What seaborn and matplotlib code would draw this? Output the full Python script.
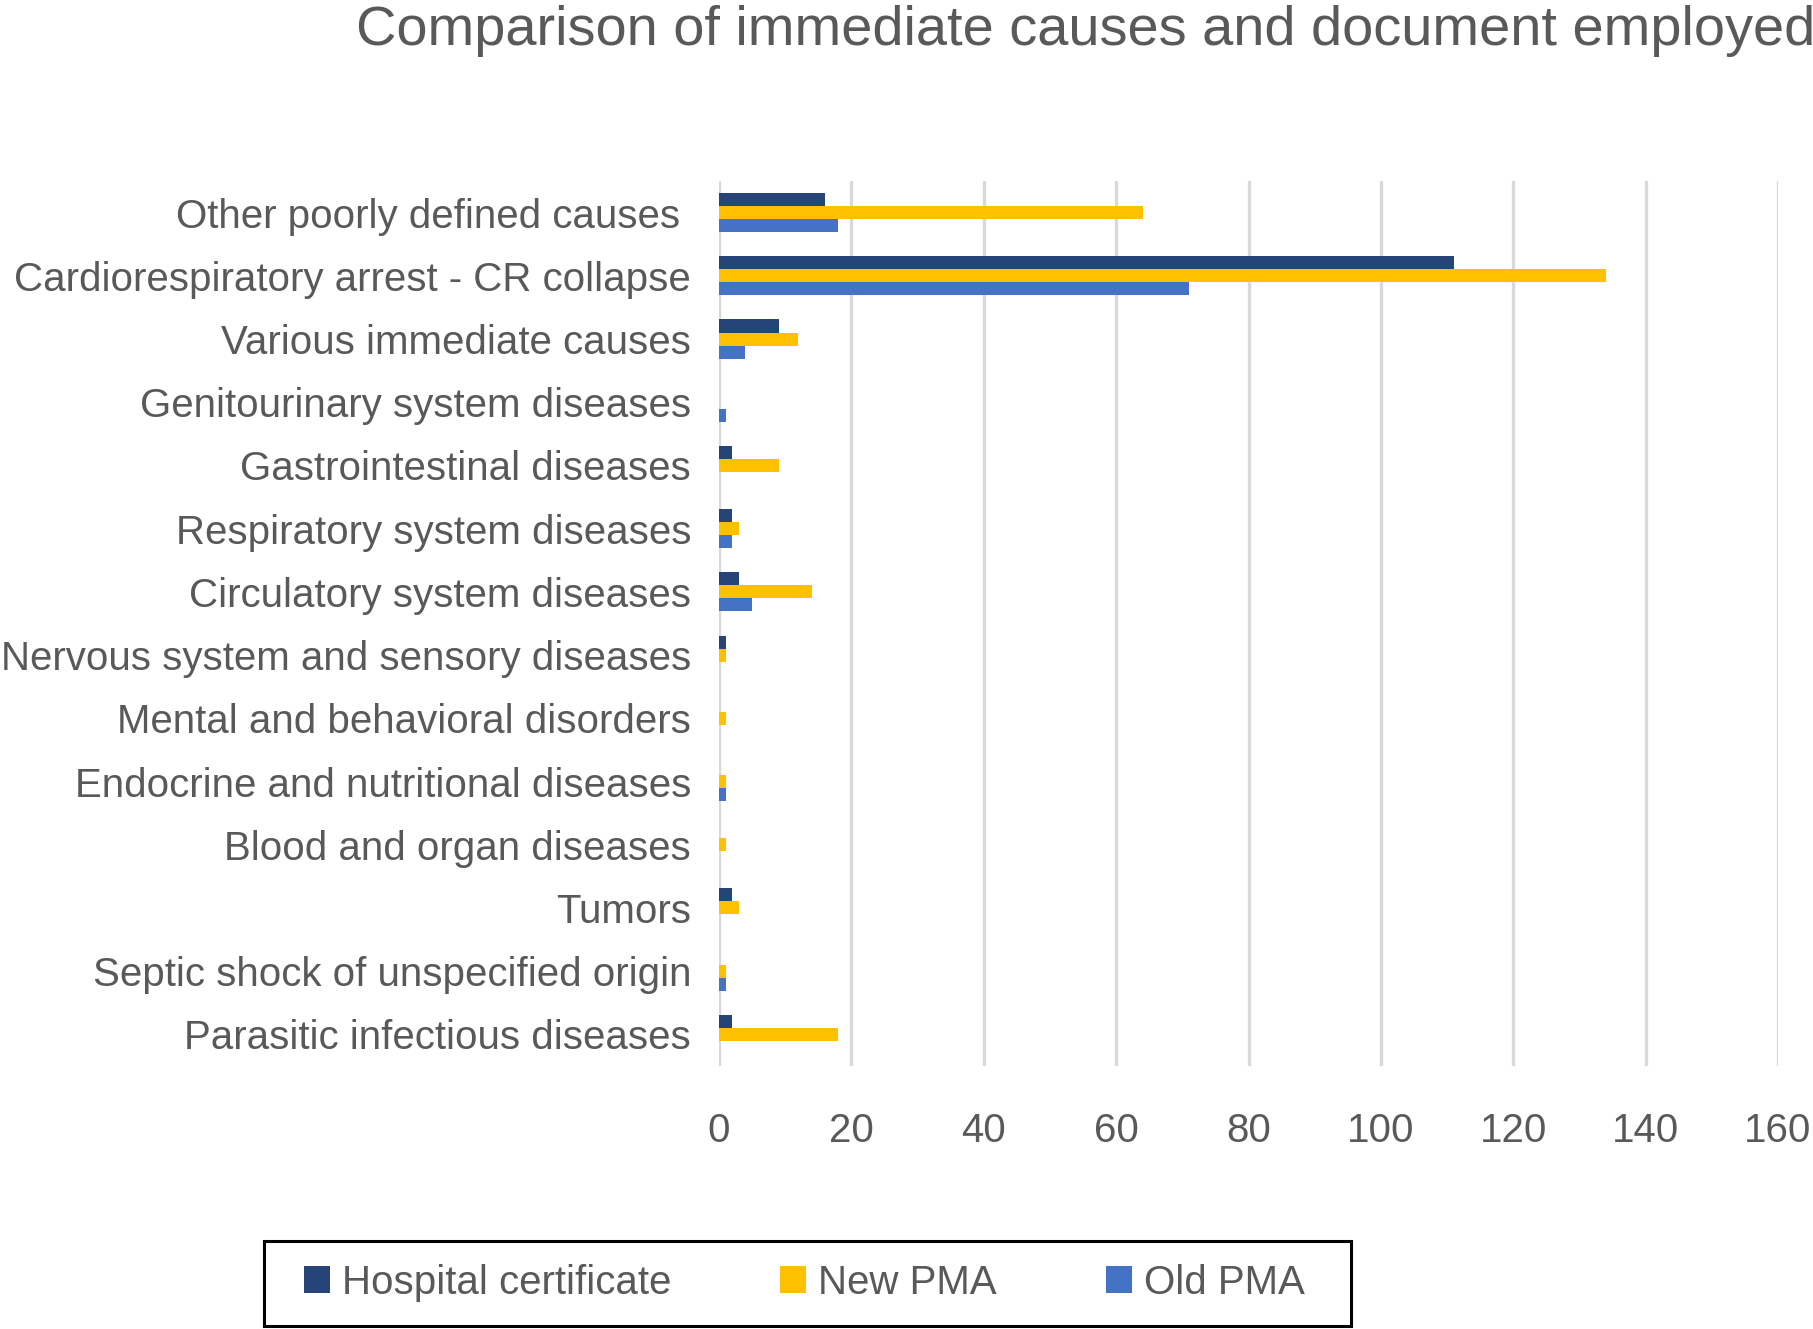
import pandas as pd
import numpy as np
import matplotlib.pyplot as plt
import seaborn as sns
from matplotlib.patches import Patch, Rectangle

# categories, top to bottom as in the chart
causes = [
    'Other poorly defined causes ',
    'Cardiorespiratory arrest - CR collapse',
    'Various immediate causes',
    'Genitourinary system diseases',
    'Gastrointestinal diseases',
    'Respiratory system diseases',
    'Circulatory system diseases',
    'Nervous system and sensory diseases',
    'Mental and behavioral disorders',
    'Endocrine and nutritional diseases',
    'Blood and organ diseases',
    'Tumors',
    'Septic shock of unspecified origin',
    'Parasitic infectious diseases',
]
documents = ['Hospital certificate', 'New PMA', 'Old PMA']

hospital = [16, 111, 9, 0, 2, 2, 3, 1, 0, 0, 0, 2, 0, 2]
new_pma = [64, 134, 12, 0, 9, 3, 14, 1, 1, 1, 1, 3, 1, 18]
old_pma = [18, 71, 4, 1, 0, 2, 5, 0, 0, 1, 0, 0, 1, 0]

xticks = [0, 20, 40, 60, 80, 100, 120, 140, 160]

colors = ['#264478', '#FFC000', '#4472C4']
text_col = '#595959'

df = pd.DataFrame({'Cause': causes, 'Hospital certificate': hospital,
                   'New PMA': new_pma, 'Old PMA': old_pma})
long_df = df.melt(id_vars='Cause', var_name='Document', value_name='Count')

sns.set_style('white')
plt.rcParams['font.family'] = ['Liberation Sans', 'DejaVu Sans']

W, H = 1813, 1329
fig = plt.figure(figsize=(W / 100, H / 100), dpi=100)
ax = fig.add_axes([719 / W, 1 - 1066 / H, (1778 - 719) / W, (1066 - 181) / H])

sns.barplot(data=long_df, y='Cause', x='Count', hue='Document', order=causes,
            hue_order=documents, palette=colors, width=0.62, orient='h',
            saturation=1, legend=False, ax=ax, linewidth=0)

ax.set_xlim(0, 160)
ax.set_ylim(len(causes) - 0.5, -0.5)
ax.set_xticks(xticks)
ax.set_xticklabels([str(v) for v in xticks])
ax.grid(axis='x', color='#D9D9D9', linewidth=2.4)
ax.grid(axis='y', visible=False)
ax.set_axisbelow(True)
for s in ax.spines.values():
    s.set_visible(False)
ax.set_xlabel('')
ax.set_ylabel('')
ax.tick_params(axis='x', length=0, pad=33, labelsize=29, labelcolor=text_col)
ax.tick_params(axis='y', length=0, pad=20, labelsize=29, labelcolor=text_col)

fig.text(356 / W, 1 - 45 / H, 'Comparison of immediate causes and document employed',
         fontsize=40.3, color=text_col, ha='left', va='baseline')

# legend box drawn separately, entries placed inside it
box = Rectangle((264 / W, 1 - 1326 / H), (1351 - 264) / W, 85 / H, transform=fig.transFigure,
                fill=False, edgecolor='black', linewidth=2.2)
fig.patches.append(box)

handles = [Patch(facecolor=c, edgecolor='none') for c in colors]
leg = fig.legend(handles, documents, loc='center left',
                 bbox_to_anchor=(304 / W, 1 - 1283 / H),
                 ncol=3, fontsize=29, frameon=False,
                 handlelength=0.645, handleheight=0.645, handletextpad=0.3,
                 columnspacing=2.7, borderpad=0, borderaxespad=0)
for t in leg.get_texts():
    t.set_color(text_col)

plt.savefig('out.png', dpi=100)
